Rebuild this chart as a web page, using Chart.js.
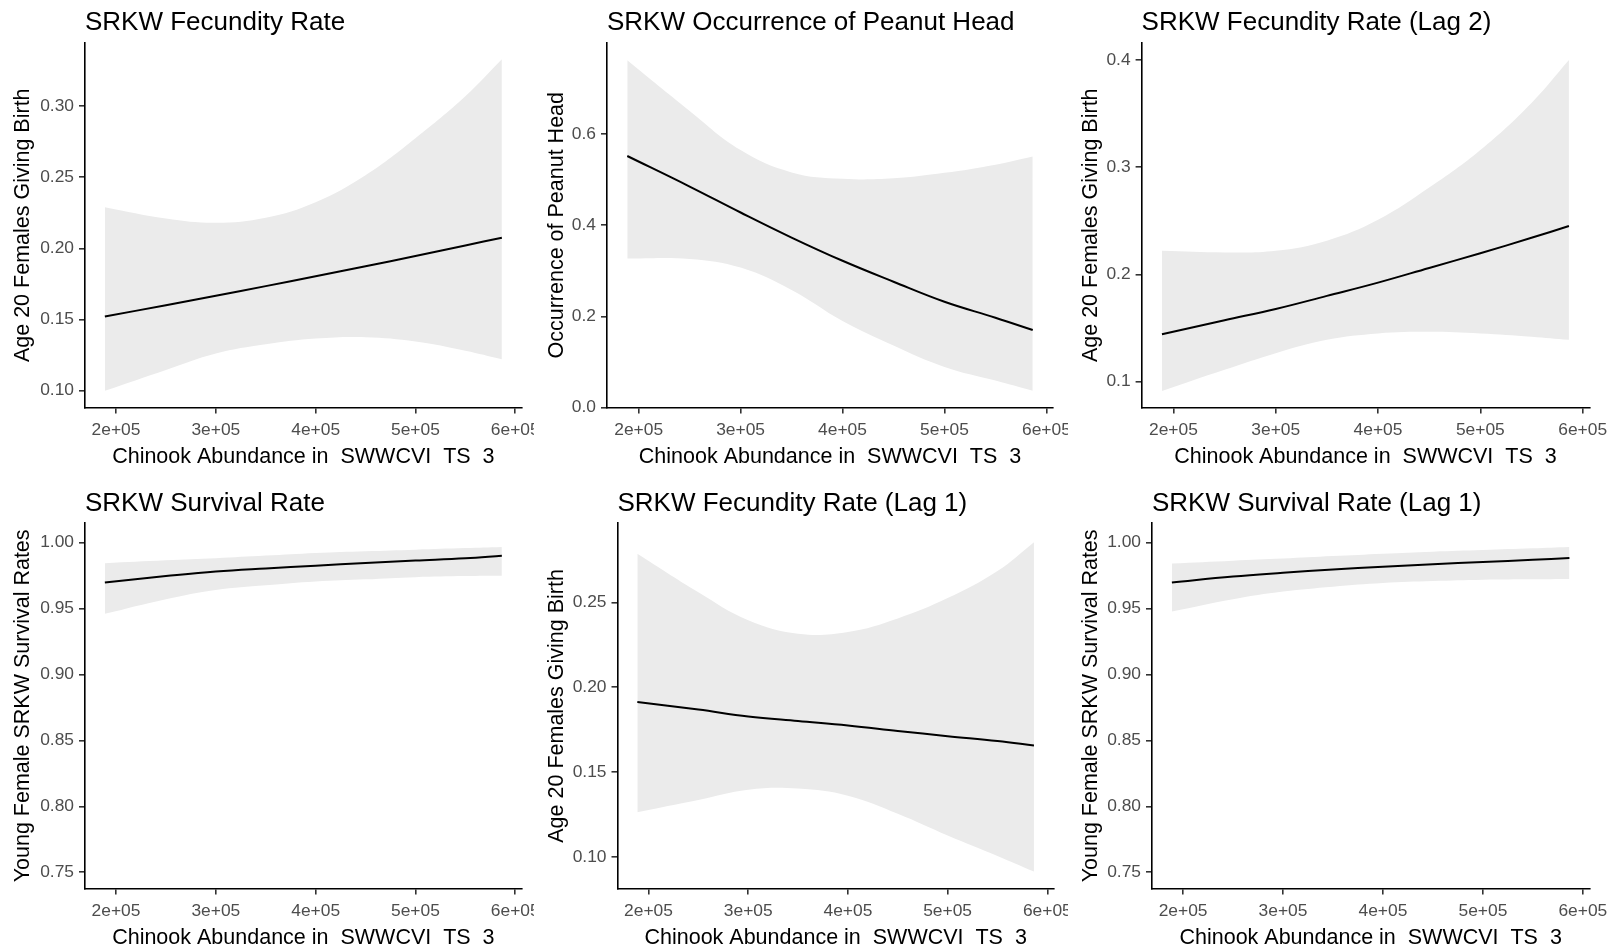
<!DOCTYPE html>
<html lang="en">
<head>
  <meta charset="UTF-8">
  <title>SRKW rates vs Chinook abundance</title>
  <script src="https://cdn.jsdelivr.net/npm/chart.js@4"></script>
  <style>
    body { margin: 0; background: #fff; }
    #page { position: relative; width: 1609px; height: 949px; overflow: hidden; background: #fff; }
    #page canvas { position: absolute; }
  </style>
</head>
<body>
  <div id="page"></div>

  <script>
    // Chinook abundance (x) where the fitted curves were read
    const abundance = [188800, 250000, 300000, 350000, 400000, 450000, 500000, 550000, 586600]
    const xTicks = [200000, 300000, 400000, 500000, 600000]
    const xLabel = 'Chinook Abundance in  SWWCVI  TS  3'

    // SRKW Fecundity Rate
    const fecFit = [0.152, 0.1600, 0.1666, 0.1734, 0.1803, 0.1874, 0.1946, 0.2020, 0.2075]
    const fecUpper = [0.229, 0.221, 0.218, 0.2215, 0.2325, 0.2515, 0.2775, 0.307, 0.333]
    const fecLower = [0.0997, 0.1144, 0.126, 0.1325, 0.1365, 0.1375, 0.1345, 0.128, 0.122]
    const fecTicks = [0.10, 0.15, 0.20, 0.25, 0.30]

    // SRKW Occurrence of Peanut Head
    const peanutFit = [0.552, 0.485, 0.428, 0.373, 0.322, 0.276, 0.232, 0.197, 0.170]
    const peanutUpper = [0.762, 0.651, 0.565, 0.516, 0.502, 0.503, 0.515, 0.533, 0.551]
    const peanutLower = [0.327, 0.326, 0.307, 0.258, 0.190, 0.136, 0.089, 0.059, 0.0365]
    const peanutTicks = [0.0, 0.2, 0.4, 0.6]

    // SRKW Fecundity Rate (Lag 2)
    const fecLag2Fit = [0.1442, 0.1573, 0.1678, 0.180, 0.1924, 0.2061, 0.2198, 0.2342, 0.2452]
    const fecLag2Upper = [0.222, 0.2205, 0.222, 0.2315, 0.251, 0.281, 0.316, 0.360, 0.400]
    const fecLag2Lower = [0.0913, 0.111, 0.1265, 0.139, 0.145, 0.1465, 0.145, 0.142, 0.139]
    const fecLag2Ticks = [0.1, 0.2, 0.3, 0.4]

    // SRKW Survival Rate
    const survFit = [0.9697, 0.9745, 0.978, 0.9803, 0.9823, 0.9845, 0.9863, 0.988, 0.9899]
    const survUpper = [0.9843, 0.9865, 0.988, 0.990, 0.992, 0.9933, 0.9945, 0.9957, 0.9965]
    const survLower = [0.9459, 0.957, 0.964, 0.9675, 0.9704, 0.972, 0.9737, 0.9745, 0.9747]
    const survTicks = [0.75, 0.80, 0.85, 0.90, 0.95, 1.00]

    // SRKW Fecundity Rate (Lag 1)
    const fecLag1Fit = [0.1912, 0.1868, 0.1827, 0.180, 0.1774, 0.1742, 0.1711, 0.1682, 0.1656]
    const fecLag1Upper = [0.2787, 0.256, 0.2395, 0.2315, 0.2325, 0.2405, 0.2525, 0.2685, 0.2855]
    const fecLag1Lower = [0.1263, 0.1335, 0.1395, 0.1402, 0.136, 0.1254, 0.1126, 0.1005, 0.0913]
    const fecLag1Ticks = [0.10, 0.15, 0.20, 0.25]

    // SRKW Survival Rate (Lag 1)
    const survLag1Fit = [0.9697, 0.9742, 0.977, 0.9795, 0.9815, 0.9835, 0.9852, 0.9868, 0.9882]
    const survLag1Upper = [0.984, 0.9862, 0.9878, 0.9897, 0.9915, 0.993, 0.9942, 0.9955, 0.9965]
    const survLag1Lower = [0.9477, 0.957, 0.9628, 0.9665, 0.9692, 0.9707, 0.9717, 0.972, 0.9722]

    const FONT = "'Liberation Sans', Arial, Helvetica, sans-serif"
    Chart.defaults.font.family = FONT

    // x range like ggplot: data range plus 5% on each side
    const xSpan = abundance[abundance.length - 1] - abundance[0]
    const xMin = abundance[0] - 0.05 * xSpan
    const xMax = abundance[abundance.length - 1] + 0.05 * xSpan

    // grid cells of the figure and where each plot panel sits inside them
    const cols = [{ x: 0, w: 534 }, { x: 534, w: 534 }, { x: 1068, w: 541 }]
    const rows = [
      { y: 0, h: 474, top: 43, bottom: 407.5, titleY: 22.5 },
      { y: 474, h: 475, top: 523.3, bottom: 888.5, titleY: 504 }
    ]

    const panels = [
      { title: 'SRKW Fecundity Rate', yTitle: 'Age 20 Females Giving Birth', fit: fecFit, upper: fecUpper, lower: fecLower,
        ticks: fecTicks, dec: 2, yMin: 0.088, yMax: 0.3445, col: 0, row: 0, left: 85, right: 521.7 },
      { title: 'SRKW Occurrence of Peanut Head', yTitle: 'Occurrence of Peanut Head', fit: peanutFit, upper: peanutUpper, lower: peanutLower,
        ticks: peanutTicks, dec: 1, yMin: 0.0, yMax: 0.80, col: 1, row: 0, left: 607, right: 1053 },
      { title: 'SRKW Fecundity Rate (Lag 2)', yTitle: 'Age 20 Females Giving Birth', fit: fecLag2Fit, upper: fecLag2Upper, lower: fecLag2Lower,
        ticks: fecLag2Ticks, dec: 1, yMin: 0.0759, yMax: 0.4159, col: 2, row: 0, left: 1141.6, right: 1589.3 },
      { title: 'SRKW Survival Rate', yTitle: 'Young Female SRKW Survival Rates', fit: survFit, upper: survUpper, lower: survLower,
        ticks: survTicks, dec: 2, yMin: 0.7377, yMax: 1.0145, col: 0, row: 1, left: 85, right: 521.7 },
      { title: 'SRKW Fecundity Rate (Lag 1)', yTitle: 'Age 20 Females Giving Birth', fit: fecLag1Fit, upper: fecLag1Upper, lower: fecLag1Lower,
        ticks: fecLag1Ticks, dec: 2, yMin: 0.0813, yMax: 0.2966, col: 1, row: 1, left: 617.5, right: 1053.8 },
      { title: 'SRKW Survival Rate (Lag 1)', yTitle: 'Young Female SRKW Survival Rates', fit: survLag1Fit, upper: survLag1Upper, lower: survLag1Lower,
        ticks: survTicks, dec: 2, yMin: 0.7377, yMax: 1.0145, col: 2, row: 1, left: 1152, right: 1589.3 }
    ]

    const TITLE_SIZE = 26
    const AXIS_TITLE_SIZE = 21.5
    const TICK_SIZE = 17.4

    const toPoints = (ys) => abundance.map((x, i) => ({ x: x, y: ys[i] }))
    const sciLabel = (v) => (v / 100000) + 'e+05'

    const page = document.getElementById('page')

    panels.forEach(p => {
      const cell = { x: cols[p.col].x, w: cols[p.col].w, y: rows[p.row].y, h: rows[p.row].h }
      const row = rows[p.row]

      const canvas = document.createElement('canvas')
      canvas.width = cell.w
      canvas.height = cell.h
      canvas.style.left = cell.x + 'px'
      canvas.style.top = cell.y + 'px'
      canvas.style.width = cell.w + 'px'
      canvas.style.height = cell.h + 'px'
      page.appendChild(canvas)

      // title box: centre of the text at titleY, plot top at row.top
      const titleLh = TITLE_SIZE * 1.2
      const titlePadTop = row.titleY - cell.y - titleLh / 2
      const titlePadBottom = (row.top - cell.y) - titlePadTop - titleLh

      // x axis title centre sits ~49px under the axis line
      const axisLh = AXIS_TITLE_SIZE
      const xTitlePad = (cell.y + cell.h) - (row.bottom + 49.5) - axisLh / 2

      new Chart(canvas, {
        type: 'line',
        data: {
          datasets: [
            {
              label: 'fit',
              data: toPoints(p.fit),
              borderColor: '#000000',
              borderWidth: 2,
              pointRadius: 0,
              fill: false,
              tension: 0.4
            },
            {
              label: 'upper',
              data: toPoints(p.upper),
              borderColor: 'rgba(0,0,0,0)',
              borderWidth: 0,
              backgroundColor: '#EBEBEB',
              pointRadius: 0,
              fill: '+1',
              tension: 0.4
            },
            {
              label: 'lower',
              data: toPoints(p.lower),
              borderColor: 'rgba(0,0,0,0)',
              borderWidth: 0,
              pointRadius: 0,
              fill: false,
              tension: 0.4
            }
          ]
        },
        options: {
          responsive: false,
          animation: false,
          events: [],
          layout: { padding: { left: 0, top: 0, bottom: 0, right: cell.x + cell.w - p.right } },
          plugins: {
            legend: { display: false },
            tooltip: { enabled: false },
            title: {
              display: true,
              text: p.title,
              align: 'start',
              fullSize: false,
              color: '#000000',
              font: { family: FONT, size: TITLE_SIZE, weight: 'normal', lineHeight: 1.2 },
              padding: { top: titlePadTop, bottom: titlePadBottom }
            }
          },
          scales: {
            x: {
              type: 'linear',
              min: xMin,
              max: xMax,
              border: { display: true, color: '#000000', width: 1.6 },
              grid: { display: true, drawOnChartArea: false, drawTicks: true, tickLength: 6, color: '#333333', lineWidth: 1.6 },
              ticks: {
                autoSkip: false,
                maxRotation: 0,
                padding: 6,
                color: '#4D4D4D',
                font: { family: FONT, size: TICK_SIZE },
                callback: (v) => sciLabel(v)
              },
              afterBuildTicks: (s) => { s.ticks = xTicks.map(v => ({ value: v })) },
              afterFit: (s) => {
                s.height = cell.y + cell.h - row.bottom
                s.paddingLeft = 0
                s.paddingRight = 0
              },
              title: {
                display: true,
                text: xLabel,
                color: '#000000',
                font: { family: FONT, size: AXIS_TITLE_SIZE, lineHeight: 1.0 },
                padding: { top: 0, bottom: xTitlePad }
              }
            },
            y: {
              type: 'linear',
              min: p.yMin,
              max: p.yMax,
              border: { display: true, color: '#000000', width: 1.6 },
              grid: { display: true, drawOnChartArea: false, drawTicks: true, tickLength: 6, color: '#333333', lineWidth: 1.6 },
              ticks: {
                autoSkip: false,
                padding: 5,
                color: '#4D4D4D',
                font: { family: FONT, size: TICK_SIZE },
                callback: (v) => Number(v).toFixed(p.dec)
              },
              afterBuildTicks: (s) => { s.ticks = p.ticks.map(v => ({ value: v })) },
              afterFit: (s) => {
                s.width = p.left - cell.x
                s.paddingTop = 0
                s.paddingBottom = 0
              },
              title: {
                display: true,
                text: p.yTitle,
                color: '#000000',
                font: { family: FONT, size: AXIS_TITLE_SIZE, lineHeight: 1.2 },
                padding: { top: 10.6, bottom: 0 }
              }
            }
          }
        }
      })
    })
  </script>
</body>
</html>
